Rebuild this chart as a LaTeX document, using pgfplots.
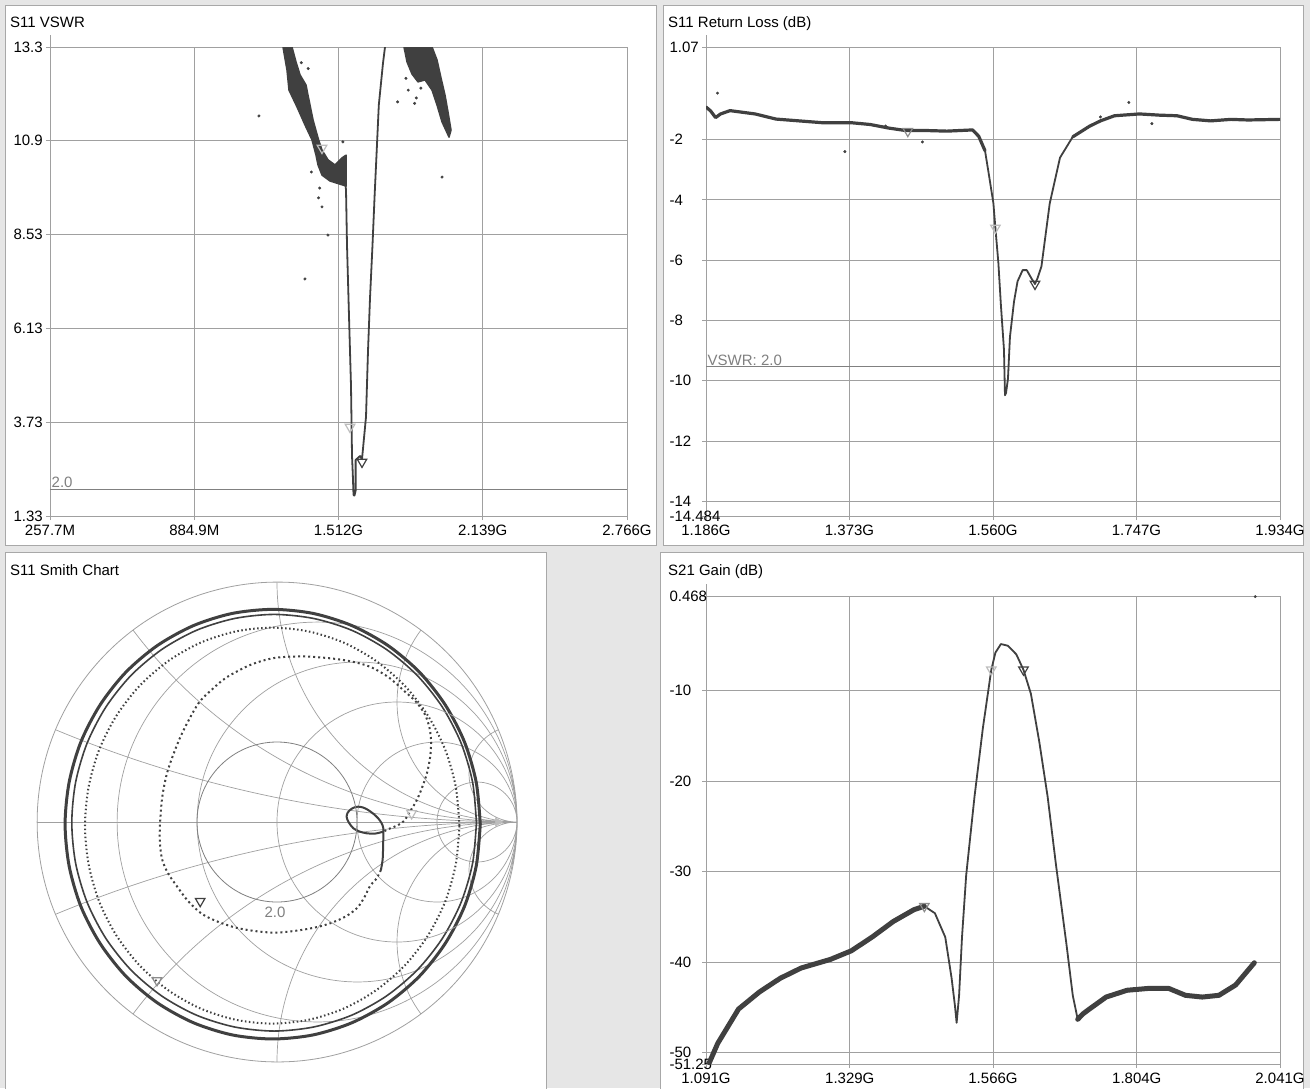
\documentclass[border=0pt]{standalone}
\usepackage{fontspec}
\setmainfont{Liberation Sans}
\usepackage{pgfplots}
\pgfplotsset{compat=1.18}
\usepgfplotslibrary{smithchart}
\definecolor{bg}{HTML}{E6E6E6}
\definecolor{framec}{HTML}{A8A8A8}
\definecolor{gridc}{HTML}{A0A0A0}
\definecolor{dat}{HTML}{404040}
\definecolor{mklight}{HTML}{BDBDBD}
\definecolor{mkmid}{HTML}{8C8C8C}
\pgfplotsset{
  panel/.style={
    scale only axis,
    grid=major,
    grid style={gridc, line width=0.9pt},
    axis line style={gridc, line width=0.9pt},
    tick style={gridc, line width=0.9pt},
    tickpos=left, tick align=outside, major tick length=4pt,
    clip mode=individual,
    tick label style={font=\fontsize{15}{17}\selectfont, text=black},
    yticklabel style={anchor=west, xshift=-36pt},
    xticklabel style={yshift=-1pt},
  },
  curve/.style={dat, line width=1.8pt, line join=round},
  band/.style={dat, line width=#1, line join=round, line cap=round},
  blob/.style={dat, fill=dat, line width=1.5pt, line join=round},
  dots/.style={only marks, mark=*, mark size=1.3pt, dat},
  mkl/.style={only marks, mark=triangle, mark size=5.5pt, mark options={rotate=180, draw=mklight, line width=1.2pt}},
  mkm/.style={only marks, mark=triangle, mark size=5.5pt, mark options={rotate=180, draw=mkmid, line width=1.2pt}},
  mkd/.style={only marks, mark=triangle, mark size=5.5pt, mark options={rotate=180, draw=dat, line width=1.2pt}},
}
\begin{document}
\begin{tikzpicture}
\useasboundingbox (0pt,0pt) rectangle (1310pt,-1088pt);
\fill[bg] (0pt,0pt) rectangle (1310pt,-1088pt);
\filldraw[fill=white, draw=framec, line width=0.8pt] (5pt,-5pt) rectangle (656pt,-545pt);
\filldraw[fill=white, draw=framec, line width=0.8pt] (663pt,-5pt) rectangle (1303pt,-545pt);
\filldraw[fill=white, draw=framec, line width=0.8pt] (5pt,-552pt) rectangle (546pt,-1092pt);
\filldraw[fill=white, draw=framec, line width=0.8pt] (660pt,-552pt) rectangle (1303pt,-1092pt);

\node[anchor=base west, inner sep=0pt, font=\fontsize{15}{17}\selectfont] at (10pt,-27pt) {S11 VSWR};
\node[anchor=base west, inner sep=0pt, font=\fontsize{15}{17}\selectfont] at (668pt,-27pt) {S11 Return Loss (dB)};
\node[anchor=base west, inner sep=0pt, font=\fontsize{15}{17}\selectfont] at (10pt,-575pt) {S11 Smith Chart};
\node[anchor=base west, inner sep=0pt, font=\fontsize{15}{17}\selectfont] at (668pt,-575pt) {S21 Gain (dB)};
\draw[gridc, line width=0.9pt] (50pt,-47pt) -- (50pt,-35pt);
\draw[gridc, line width=0.9pt] (706pt,-47pt) -- (706pt,-35pt);
\draw[gridc, line width=0.9pt] (706pt,-596pt) -- (706pt,-584pt);

% ---------------- S11 VSWR ----------------
\begin{axis}[panel, at={(50pt,-516pt)}, anchor=south west, width=577pt, height=469pt,
  xmin=257.7, xmax=2766, ymin=1.33, ymax=13.3,
  xtick={257.7,884.9,1512,2139,2766}, xticklabels={257.7M,884.9M,1.512G,2.139G,2.766G},
  ytick={1.33,3.724,6.118,8.512,10.906,13.3}, yticklabels={1.33,3.73,6.13,8.53,10.9,13.3}]
\addplot[gridc!80!black, line width=1pt] coordinates {(257.7,2.0) (2766,2.0)};
\node[anchor=south west, inner sep=1.5pt, text=gray, font=\fontsize{15}{17}\selectfont] at (axis cs:257.7,2.0) {2.0};
\addplot[blob] coordinates {(1270.6,13.30) (1288.0,12.71) (1296.7,12.20) (1331.5,11.77) (1366.2,11.31) (1396.7,10.93) (1414.1,10.54) (1422.8,10.29) (1440.2,10.03) (1474.9,9.88) (1518.4,9.80) (1544.5,9.75) (1544.5,10.54) (1527.1,10.47) (1496.7,10.29) (1466.2,10.42) (1440.2,10.67) (1422.8,10.98) (1401.1,11.44) (1388.0,11.82) (1379.3,12.07) (1370.6,12.33) (1344.5,12.59) (1327.1,12.92) (1309.7,13.30)} -- cycle;
\addplot[curve] coordinates {(1540.1,9.9) (1544.5,9.65) (1548.8,8.25) (1557.5,6.43) (1566.2,4.65) (1568.4,3.75) (1570.6,2.86) (1574,2.4) (1577.1,1.87) (1581,1.85) (1586.2,1.97) (1586.2,2.76) (1605.4,2.86) (1614,2.78) (1631.4,3.86) (1640.1,5.54) (1648.8,6.89) (1659.7,8.25) (1668.8,9.50) (1677.9,10.65) (1687.1,11.82) (1705.3,12.89) (1714,13.3)};
\addplot[blob] coordinates {(1796.6,13.30) (1809.7,12.92) (1831.4,12.61) (1857.5,12.41) (1888.0,12.46) (1918.4,12.20) (1940.1,11.82) (1961.8,11.39) (1992.3,11.00) (2001.0,11.18) (1987.9,11.64) (1974.9,12.07) (1957.5,12.51) (1940.1,12.97) (1918.4,13.30)} -- cycle;
\addplot[dots] coordinates {(1166,11.54) (1366,7.38) (1466,8.50) (1440,9.22) (1394,10.11) (1531,10.88) (1769,11.9) (1962,9.98) (1842.7,11.86) (1350,12.9) (1380,12.75) (1430,9.7) (1425,9.45) (1805,12.5) (1815,12.2) (1850,12.0) (1870,12.25)};
\addplot[mkl] coordinates {(1440.1,10.72) (1561.9,3.60)};
\addplot[mkd] coordinates {(1614,2.71)};
\end{axis}

% ---------------- S11 Return Loss ----------------
\begin{axis}[panel, at={(706pt,-516pt)}, anchor=south west, width=574pt, height=469pt,
  xmin=1186, xmax=1934, ymin=-14.484, ymax=1.07,
  xtick={1186,1373,1560,1747,1934}, xticklabels={1.186G,1.373G,1.560G,1.747G,1.934G},
  ytick={-14.484,-14,-12,-10,-8,-6,-4,-2,1.07}, yticklabels={-14.484,-14,-12,-10,-8,-6,-4,-2,1.07}]
\addplot[gridc!80!black, line width=1pt] coordinates {(1186,-9.54) (1934,-9.54)};
\node[anchor=south west, inner sep=1.5pt, text=gray, font=\fontsize{15}{17}\selectfont] at (axis cs:1186,-9.54) {VSWR: 2.0};
\addplot[band=3.2pt] coordinates {(1186,-0.92) (1192,-1.05) (1198.5,-1.27) (1205,-1.15) (1217.3,-1.04) (1250,-1.15) (1277.2,-1.32) (1337.2,-1.44) (1375,-1.44) (1400,-1.50) (1424.5,-1.62) (1446.1,-1.70) (1473.3,-1.70) (1500,-1.72) (1533.3,-1.68) (1541.4,-1.89) (1549.6,-2.37)};
\addplot[curve] coordinates {(1549.6,-2.37) (1554.8,-3.19) (1560.5,-4.11) (1563.1,-4.93) (1567,-6.09) (1570.3,-7.49) (1574.3,-8.97) (1575.6,-10.48) (1577,-10.4) (1579.5,-9.93) (1582.1,-8.54) (1587.4,-7.37) (1592,-6.7) (1598.6,-6.33) (1604,-6.33) (1610,-6.6) (1614.7,-6.79) (1618,-6.6) (1623.1,-6.21) (1633.9,-4.12) (1647.3,-2.60) (1663.9,-1.91)};
\addplot[band=3.2pt] coordinates {(1663.9,-1.91) (1685.6,-1.56) (1700,-1.38) (1718.3,-1.21) (1750.9,-1.15) (1777,-1.19) (1799.8,-1.21) (1820,-1.33) (1843.6,-1.38) (1870,-1.33) (1892.3,-1.35) (1934,-1.33)};
\addplot[dots] coordinates {(1201,-0.46) (1367,-2.40) (1468,-2.08) (1737,-0.77) (1767,-1.47) (1420,-1.55) (1700,-1.25)};
\addplot[mkm] coordinates {(1449,-1.72)};
\addplot[mkl] coordinates {(1563.1,-4.93)};
\addplot[mkd] coordinates {(1614.7,-6.79)};
\end{axis}

% ---------------- S21 Gain ----------------
\begin{axis}[panel, at={(706pt,-1064pt)}, anchor=south west, width=574pt, height=468pt,
  xmin=1091, xmax=2041, ymin=-51.25, ymax=0.468,
  xtick={1091,1329,1566,1804,2041}, xticklabels={1.091G,1.329G,1.566G,1.804G,2.041G},
  ytick={-51.25,-50,-40,-30,-20,-10,0.468}, yticklabels={-51.25,-50,-40,-30,-20,-10,0.468}]
\addplot[band=5pt] coordinates {(1096.5,-51.1) (1110.4,-48.97) (1144.8,-45.18) (1179.4,-43.29) (1214,-41.77) (1248.5,-40.64) (1296.9,-39.69) (1331.5,-38.74) (1366,-37.22) (1400.7,-35.51) (1435.3,-34.19) (1452.4,-33.81)};
\addplot[curve] coordinates {(1452.4,-33.81) (1469.8,-34.58) (1487,-37.23) (1497.5,-41.77) (1503,-44.8) (1505.8,-46.7) (1509.9,-43.66) (1514.7,-37.23) (1521.6,-30.40) (1535.4,-21.7) (1549.3,-14.1) (1563.2,-7.68) (1570,-5.79) (1579.1,-4.84) (1590.8,-5.03) (1604.6,-5.98) (1616.4,-7.68) (1628.7,-10.33) (1642.6,-15.64) (1656.4,-21.7) (1670.3,-29.27) (1687.5,-37.98) (1698,-43.66) (1706.2,-46.31)};
\addplot[band=5pt] coordinates {(1706.2,-46.31) (1715,-45.7) (1725.5,-45.18) (1753.2,-43.85) (1787.9,-43.1) (1822.4,-42.9) (1857,-42.9) (1884.6,-43.66) (1912.3,-43.85) (1939.9,-43.66) (1967.5,-42.52) (1998.6,-40.06)};
\addplot[dots] coordinates {(2000,0.40)};
\addplot[mkm] coordinates {(1452.4,-33.81)};
\addplot[mkl] coordinates {(1563.2,-7.68)};
\addplot[mkd] coordinates {(1616.4,-7.68)};
\end{axis}

% ---------------- Smith chart ----------------
\begin{smithchart}[at={(277pt,-822pt)}, anchor=center, scale only axis, width=480pt,
  xtick={0.2,0.5,2,5}, ytick={-5,-2,-1,-0.5,-0.2,0.2,0.5,1,2,5},
  xticklabels={}, yticklabels={},
  tick style={draw=none}, major tick length=0pt,
  grid style={gridc, line width=0.7pt},
  axis line style={gridc, line width=0.8pt}]
\addplot[is smithchart cs, dat, line width=3pt, smooth] coordinates {(0.847,-0.009) (0.830,0.166) (0.781,0.334) (0.701,0.488) (0.594,0.624) (0.463,0.735) (0.313,0.818) (0.151,0.869) (-0.018,0.886) (-0.187,0.869) (-0.349,0.818) (-0.499,0.735) (-0.630,0.624) (-0.737,0.488) (-0.817,0.334) (-0.866,0.166) (-0.883,-0.009) (-0.866,-0.184) (-0.817,-0.352) (-0.737,-0.506) (-0.630,-0.642) (-0.499,-0.753) (-0.349,-0.836) (-0.187,-0.887) (-0.018,-0.904) (0.151,-0.887) (0.313,-0.836) (0.463,-0.753) (0.594,-0.642) (0.701,-0.506) (0.781,-0.352) (0.830,-0.184) (0.847,-0.009)};
\addplot[is smithchart cs, dat, line width=1.6pt, smooth] coordinates {(0.831,-0.003) (0.815,0.166) (0.767,0.329) (0.689,0.479) (0.584,0.611) (0.456,0.719) (0.311,0.799) (0.153,0.848) (-0.012,0.865) (-0.177,0.848) (-0.335,0.799) (-0.480,0.719) (-0.608,0.611) (-0.713,0.479) (-0.791,0.329) (-0.839,0.166) (-0.855,-0.003) (-0.839,-0.172) (-0.791,-0.335) (-0.713,-0.485) (-0.608,-0.617) (-0.480,-0.725) (-0.335,-0.805) (-0.177,-0.854) (-0.012,-0.871) (0.153,-0.854) (0.311,-0.805) (0.456,-0.725) (0.584,-0.617) (0.689,-0.485) (0.767,-0.335) (0.815,-0.172) (0.831,-0.003)};
\addplot[is smithchart cs, dat, line width=2pt, smooth, dash pattern=on 1.5pt off 2.5pt] coordinates {(0.760,-0.015) (0.745,0.146) (0.701,0.301) (0.629,0.443) (0.532,0.568) (0.413,0.671) (0.279,0.747) (0.132,0.794) (-0.020,0.810) (-0.172,0.794) (-0.319,0.747) (-0.453,0.671) (-0.572,0.568) (-0.669,0.443) (-0.741,0.301) (-0.785,0.146) (-0.800,-0.015) (-0.785,-0.176) (-0.741,-0.331) (-0.669,-0.473) (-0.572,-0.598) (-0.453,-0.701) (-0.319,-0.777) (-0.172,-0.824) (-0.020,-0.840) (0.132,-0.824) (0.279,-0.777) (0.413,-0.701) (0.532,-0.598) (0.629,-0.473) (0.701,-0.331) (0.745,-0.176) (0.760,-0.015)};
\addplot[is smithchart cs, dat, line width=2pt, smooth, dash pattern=on 2pt off 3pt] coordinates {(0.433,-0.200) (0.415,-0.235) (0.3875,-0.267) (0.365,-0.312) (0.3375,-0.354) (0.30,-0.385) (0.25,-0.411) (0.19,-0.432) (0.125,-0.446) (0.055,-0.456) (-0.014,-0.461) (-0.095,-0.454) (-0.172,-0.440) (-0.245,-0.416) (-0.3125,-0.383) (-0.370,-0.330) (-0.4175,-0.267) (-0.455,-0.212) (-0.479,-0.154) (-0.488,-0.082) (-0.4875,-0.010) (-0.478,0.105) (-0.454,0.218) (-0.400,0.360) (-0.329,0.492) (-0.270,0.553) (-0.208,0.604) (-0.110,0.655) (-0.014,0.683) (0.100,0.690) (0.2125,0.683) (0.305,0.670) (0.3875,0.647) (0.465,0.603) (0.529,0.547) (0.580,0.500) (0.617,0.447) (0.636,0.390) (0.642,0.333) (0.638,0.270) (0.625,0.204) (0.605,0.145) (0.582,0.090) (0.555,0.045) (0.529,0.004) (0.500,-0.015) (0.475,-0.025) (0.443,-0.040)};
\addplot[is smithchart cs, dat, line width=2pt, smooth] coordinates {(0.443,-0.040) (0.410,-0.048) (0.374,-0.047) (0.345,-0.040) (0.318,-0.026) (0.298,0.000) (0.290,0.022) (0.295,0.040) (0.304,0.050) (0.320,0.060) (0.339,0.064) (0.360,0.060) (0.380,0.050) (0.402,0.034) (0.422,0.015) (0.436,-0.005) (0.443,-0.026) (0.443,-0.061) (0.442,-0.110) (0.440,-0.158) (0.433,-0.200)};
\addplot[is smithchart cs, mkd] coordinates {(-0.32,-0.33)};
\addplot[is smithchart cs, mkm] coordinates {(-0.50,-0.66)};
\addplot[is smithchart cs, mkl] coordinates {(0.561,0.036)};
\addplot[is smithchart cs, only marks, mark=triangle*, mark size=5pt, mark options={rotate=-90, fill=mklight, draw=mklight}] coordinates {(0.92,0.0)};
\end{smithchart}
\fill[white] (277pt,-822pt) circle[radius=3.5pt];
\draw[gridc, line width=0.8pt] (268pt,-822pt) -- (286pt,-822pt);
\draw[gridc, line width=0.7pt] (397pt,-822pt) circle[radius=120pt];
\draw[gridc!80!black, line width=0.8pt] (277pt,-822pt) circle[radius=80pt];
\node[text=gray, font=\fontsize{15}{17}\selectfont] at (275pt,-912pt) {2.0};
\end{tikzpicture}
\end{document}
